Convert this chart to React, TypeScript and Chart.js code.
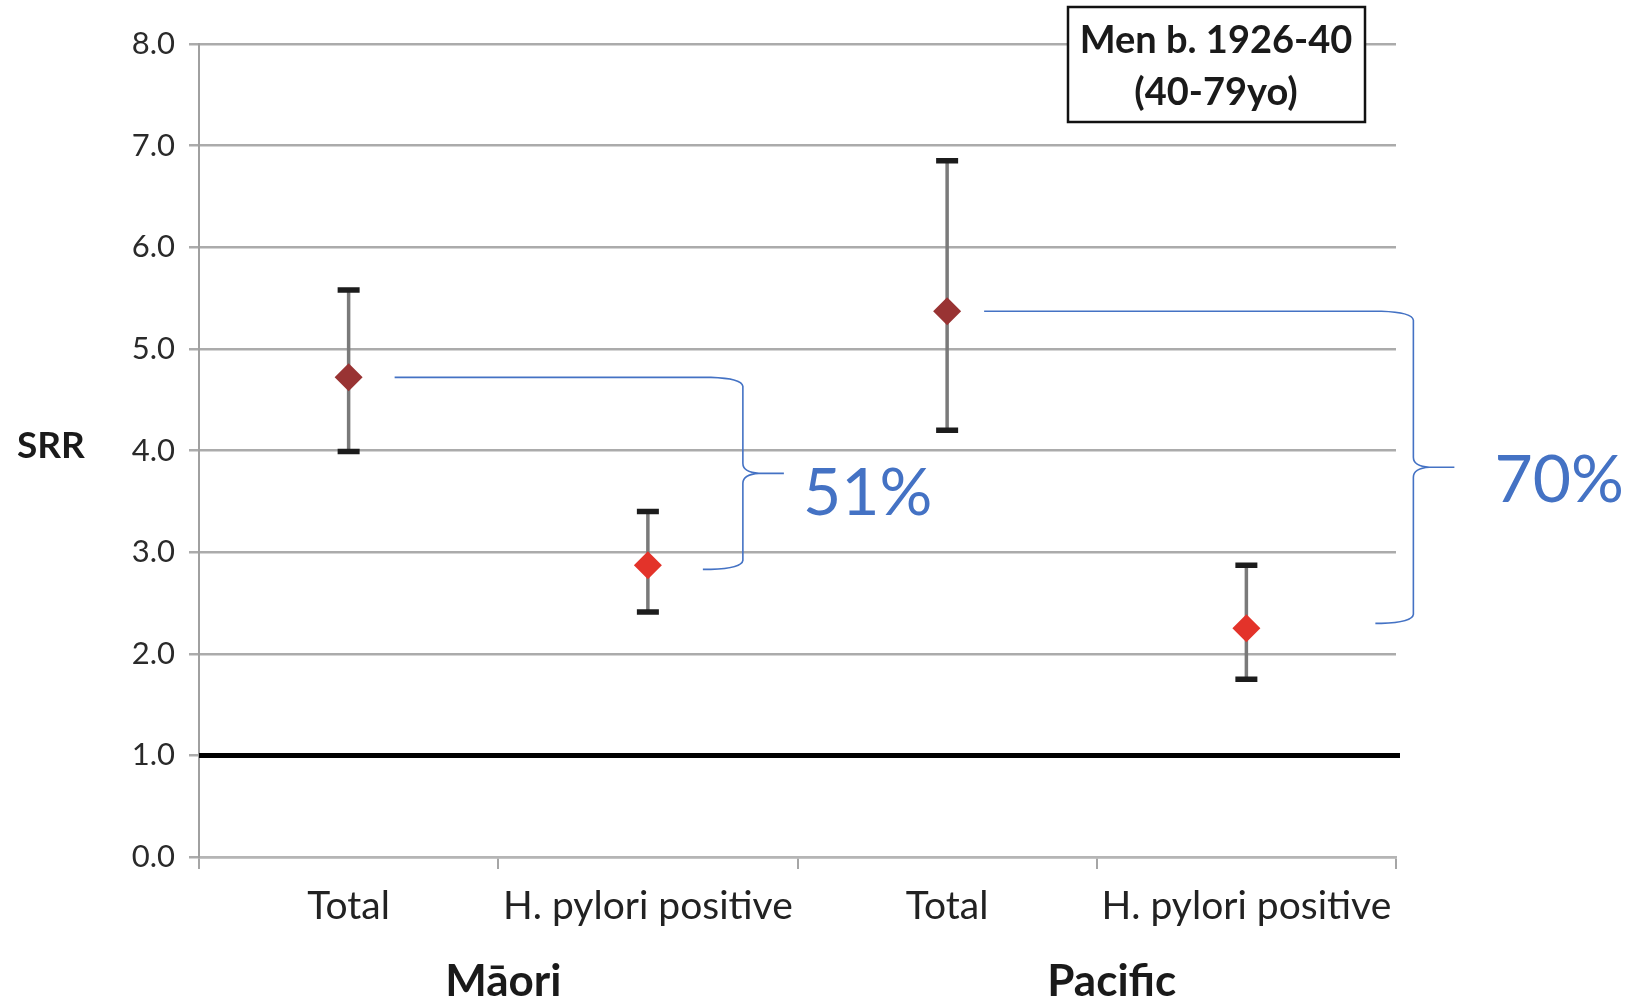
import React, { useEffect, useRef } from 'react';
import { Chart, registerables } from 'chart.js';

Chart.register(...registerables);

const categories = ['Total', 'H. pylori positive', 'Total', 'H. pylori positive'];
const groups = ['Māori', 'Pacific'];
const srr = [4.72, 2.87, 5.37, 2.25];
const lower = [3.99, 2.41, 4.2, 1.75];
const upper = [5.58, 3.4, 6.85, 2.87];
const pointColors = ['#993333', '#e3332a', '#993333', '#e3332a'];
const referenceLine = 1.0;
const boxLines = ['Men b. 1926-40', '(40-79yo)'];
const reductions = [
  { from: 0, to: 1, label: '51%' },
  { from: 2, to: 3, label: '70%' },
];
const yAxisLabel = 'SRR';

const FONT = 'Lato, "Open Sans", sans-serif';
const BLUE = '#4472c4';

function drawBrace(
  ctx: CanvasRenderingContext2D,
  xs: number,
  yt: number,
  xv: number,
  tipX: number,
  yb: number,
  xe: number
) {
  const mid = (yt + yb) / 2;
  ctx.beginPath();
  ctx.moveTo(xs, yt);
  ctx.lineTo(xv - 32, yt);
  ctx.quadraticCurveTo(xv - 1, yt + 1, xv, yt + 9);
  ctx.lineTo(xv, mid - 10);
  ctx.quadraticCurveTo(xv, mid - 1, xv + 16, mid);
  ctx.lineTo(tipX, mid);
  ctx.moveTo(xv + 16, mid);
  ctx.quadraticCurveTo(xv, mid + 1, xv, mid + 10);
  ctx.lineTo(xv, yb - 9);
  ctx.quadraticCurveTo(xv - 1, yb - 1, xv - 32, yb);
  ctx.lineTo(xe, yb);
  ctx.stroke();
}

const overlay = {
  id: 'overlay',
  beforeDatasetsDraw(chart: any) {
    const { ctx, chartArea, scales } = chart;
    const x = scales.x;
    const y = scales.y;
    ctx.save();
    const yr = y.getPixelForValue(referenceLine);
    ctx.strokeStyle = '#000000';
    ctx.lineWidth = 5;
    ctx.beginPath();
    ctx.moveTo(chartArea.left, yr);
    ctx.lineTo(chartArea.right + 4, yr);
    ctx.stroke();

    srr.forEach((_, i) => {
      const px = x.getPixelForValue(i);
      const yl = y.getPixelForValue(lower[i]);
      const yh = y.getPixelForValue(upper[i]);
      ctx.strokeStyle = '#7a7a7a';
      ctx.lineWidth = 3.5;
      ctx.beginPath();
      ctx.moveTo(px, yh);
      ctx.lineTo(px, yl);
      ctx.stroke();
      ctx.strokeStyle = '#1c1c1c';
      ctx.lineWidth = 5.5;
      ctx.beginPath();
      ctx.moveTo(px - 11, yh);
      ctx.lineTo(px + 11, yh);
      ctx.moveTo(px - 11, yl);
      ctx.lineTo(px + 11, yl);
      ctx.stroke();
    });
    ctx.restore();
  },
  afterDraw(chart: any) {
    const { ctx, scales } = chart;
    const x = scales.x;
    const y = scales.y;
    ctx.save();

    // braces and reduction labels
    ctx.strokeStyle = BLUE;
    ctx.lineWidth = 1.6;
    reductions.forEach((r, k) => {
      const xa = x.getPixelForValue(r.from);
      const xb = x.getPixelForValue(r.to);
      const yt = y.getPixelForValue(srr[r.from]);
      const yb = y.getPixelForValue(srr[r.to]) + (k === 0 ? 4 : -5);
      const startOff = k === 0 ? 46 : 37;
      const vOff = k === 0 ? 95 : 167;
      const endOff = k === 0 ? 55 : 129;
      drawBrace(ctx, xa + startOff, yt, xb + vOff, xb + vOff + 41, yb, xb + endOff);
      ctx.fillStyle = BLUE;
      ctx.font = `66px ${FONT}`;
      ctx.textAlign = 'left';
      ctx.textBaseline = 'middle';
      const mid = (yt + yb) / 2;
      ctx.fillText(r.label, xb + vOff + (k === 0 ? 60 : 81), mid + (k === 0 ? 20 : 13));
    });

    // legend-like box
    ctx.fillStyle = '#ffffff';
    ctx.fillRect(1068, 7, 297, 115);
    ctx.strokeStyle = '#111111';
    ctx.lineWidth = 2.5;
    ctx.strokeRect(1068, 7, 297, 115);
    ctx.fillStyle = '#1a1a1a';
    ctx.font = `bold 38px ${FONT}`;
    ctx.textAlign = 'center';
    ctx.textBaseline = 'middle';
    ctx.fillText(boxLines[0], 1216, 41);
    ctx.fillText(boxLines[1], 1216, 93);

    // axis label
    ctx.font = `bold 37px ${FONT}`;
    ctx.textAlign = 'left';
    ctx.fillText(yAxisLabel, 17, y.getPixelForValue(4) - 4);

    // group labels
    ctx.font = `bold 44px ${FONT}`;
    ctx.textAlign = 'center';
    const groupShift = [5, 15];
    groups.forEach((g, gi) => {
      const cx = (x.getPixelForValue(gi * 2) + x.getPixelForValue(gi * 2 + 1)) / 2 + groupShift[gi];
      ctx.fillText(g, cx, 982);
    });
    ctx.restore();
  },
};

export default function App() {
  const ref = useRef<HTMLCanvasElement | null>(null);

  useEffect(() => {
    document.body.style.margin = '0';
    const canvas = ref.current;
    if (!canvas) return;
    const chart = new Chart(canvas, {
      type: 'line',
      data: {
        labels: categories,
        datasets: [
          {
            data: srr,
            showLine: false,
            pointStyle: 'rectRot',
            pointRadius: 14,
            pointHoverRadius: 14,
            pointBackgroundColor: pointColors,
            pointBorderColor: pointColors,
            pointBorderWidth: 0,
            clip: false,
          } as any,
        ],
      },
      options: {
        responsive: false,
        animation: false,
        events: [],
        layout: { padding: { top: 44, right: 238, left: 0, bottom: 0 } },
        plugins: { legend: { display: false }, tooltip: { enabled: false } },
        scales: {
          x: {
            type: 'category',
            offset: true,
            grid: {
              offset: true,
              drawOnChartArea: false,
              drawTicks: true,
              tickLength: 12,
              color: '#a6a6a6',
              lineWidth: 2,
            },
            border: { display: true, color: '#b5b5b5', width: 2.5 },
            ticks: {
              font: { family: FONT, size: 39 },
              color: '#222222',
              padding: 14,
              maxRotation: 0,
              autoSkip: false,
            },
            afterFit: (scale: any) => {
              scale.height = 140;
            },
          },
          y: {
            min: 0,
            max: 8,
            ticks: {
              stepSize: 1,
              callback: (v: any) => Number(v).toFixed(1),
              font: { family: FONT, size: 31 },
              color: '#2a2a2a',
              padding: 14,
            },
            grid: { color: '#ababab', lineWidth: 2.5, tickLength: 10 },
            border: { display: true, color: '#a0a0a0', width: 2 },
            afterFit: (scale: any) => {
              scale.width = 199;
            },
          },
        },
      },
      plugins: [overlay],
    });
    return () => chart.destroy();
  }, []);

  return (
    <div style={{ position: 'absolute', left: 0, top: 0, width: 1634, height: 997, background: '#fff' }}>
      <canvas ref={ref} width={1634} height={997} style={{ width: 1634, height: 997 }} />
    </div>
  );
}
